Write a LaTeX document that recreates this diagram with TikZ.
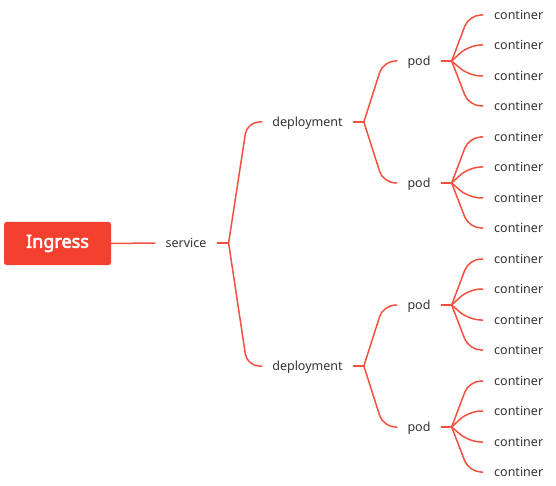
\documentclass[tikz,border=0pt]{standalone}
\usepackage{fontspec}
\setmainfont{Noto Sans}
\newfontfamily\ingfont{Noto Sans}[FakeBold=3]
\usetikzlibrary{calc}
\definecolor{boxred}{HTML}{F4412F}
\definecolor{linkred}{HTML}{F4503E}
\definecolor{txt}{HTML}{333333}
\tikzset{
  lbl/.style={text=txt, font=\fontsize{12.5}{14}\selectfont, inner xsep=10pt, inner ysep=2pt, text height=9.5pt, text depth=0.5pt},
  root/.style={fill=boxred, text=white, font=\ingfont\fontsize{18}{20}\selectfont, rounded corners=2.5pt, minimum width=107pt, minimum height=43pt, inner sep=0pt},
  link/.style={draw=linkred, line width=1.5pt},
  branch/.style={link, rounded corners=12pt}
}
\begin{document}
\begin{tikzpicture}[x=1pt,y=-1pt]
\useasboundingbox (0,0) rectangle (556,486);
\node[root] (ing) at (57.5,243.5) {Ingress};
\node[lbl] (svc) at (186,243) {service};
\node[lbl] (d1) at (307.5,122) {deployment};
\node[lbl] (d2) at (307.5,366) {deployment};
\node[lbl] (p1) at (419,61) {pod};
\node[lbl] (p2) at (419,183) {pod};
\node[lbl] (p3) at (419,305) {pod};
\node[lbl] (p4) at (419,427) {pod};
% containers
\foreach \n/\y in {1/15,2/45,3/76,4/106,5/137,6/167,7/198,8/228,9/259,10/289,11/320,12/350,13/381,14/411,15/442,16/472}{
  \node[lbl, anchor=west, inner xsep=11pt] (c\n) at (483,\y) {continer};
}
% connectors
\draw[link] (ing.east) -- (svc.west);
\coordinate (fs) at ($(svc.east)+(12,0)$);
\draw[link] (svc.east) -- (fs);
\foreach \d in {d1,d2}{
  \draw[branch] (fs) -- ($(\d.west)+(-15,0)$) -- (\d.west);
}
\coordinate (fd1) at ($(d1.east)+(11,0)$);
\coordinate (fd2) at ($(d2.east)+(11,0)$);
\draw[link] (d1.east) -- (fd1);
\draw[link] (d2.east) -- (fd2);
\foreach \p in {p1,p2}{
  \draw[branch] (fd1) -- ($(\p.west)+(-14,0)$) -- (\p.west);
}
\foreach \p in {p3,p4}{
  \draw[branch] (fd2) -- ($(\p.west)+(-14,0)$) -- (\p.west);
}
\foreach \p/\a/\b/\c/\e in {p1/1/2/3/4,p2/5/6/7/8,p3/9/10/11/12,p4/13/14/15/16}{
  \coordinate (f\p) at ($(\p.east)+(11,0)$);
  \draw[link] (\p.east) -- (f\p);
  \foreach \k in {\a,\b,\c,\e}{
    \draw[branch] (f\p) -- ($(c\k.west)+(-14,0)$) -- (c\k.west);
  }
}
\end{tikzpicture}
\end{document}
